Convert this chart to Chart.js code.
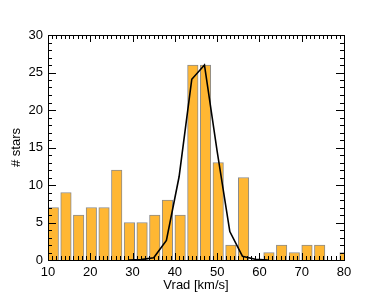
<!DOCTYPE html>
<html>
<head>
<meta charset="utf-8">
<script src="https://cdn.jsdelivr.net/npm/chart.js@4"></script>
<style>
  html, body { margin: 0; padding: 0; background: #fff; }
  #wrap { width: 374px; height: 299px; }
</style>
</head>
<body>
<div id="wrap"><canvas id="vrad-hist"></canvas></div>
<script>
// histogram bins (left edge, km/s) and star counts
const binStarts = [10, 13, 16, 19, 22, 25, 28, 31, 34, 37, 40, 43, 46, 49, 52, 55, 58, 61, 64, 67, 70, 73, 76, 79];
const counts = [7, 9, 6, 7, 7, 12, 5, 5, 6, 8, 6, 26, 26, 13, 2, 11, 0, 1, 2, 1, 2, 2, 0, 1];

// gaussian-like fit curve
const fitX = [29, 32, 35, 38, 41, 44, 47, 50, 53, 56, 59, 62];
const fitY = [0, 0.05, 0.3, 2.6, 11.1, 24.1, 26, 14.5, 3.8, 0.5, 0.1, 0];

const xTicks = [10, 20, 30, 40, 50, 60, 70, 80];
const yTicks = [0, 5, 10, 15, 20, 25, 30];

const font = { family: "'Liberation Sans', Arial, Helvetica, sans-serif", size: 13 };

// box + inward ticks, IDL style
const frameTicks = {
    id: 'frameTicks',
    afterDatasetsDraw(chart) {
        const ctx = chart.ctx;
        const a = chart.chartArea;
        const xs = chart.scales.x, ys = chart.scales.y;
        ctx.save();
        ctx.strokeStyle = '#000';
        ctx.lineWidth = 1;
        ctx.beginPath();
        for (let v = 10; v <= 80; v++) {
            const px = Math.round(xs.getPixelForValue(v)) + 0.5;
            const len = v % 10 === 0 ? 7 : 4;
            ctx.moveTo(px, a.bottom); ctx.lineTo(px, a.bottom - len);
            ctx.moveTo(px, a.top); ctx.lineTo(px, a.top + len);
        }
        for (let v = 0; v <= 30; v++) {
            const py = Math.round(ys.getPixelForValue(v)) + 0.5;
            const len = v % 5 === 0 ? 8 : 4;
            ctx.moveTo(a.left, py); ctx.lineTo(a.left + len, py);
            ctx.moveTo(a.right, py); ctx.lineTo(a.right - len, py);
        }
        ctx.stroke();
        ctx.strokeRect(Math.round(a.left) + 0.5, Math.round(a.top) + 0.5,
            Math.round(a.right - a.left), Math.round(a.bottom - a.top));
        ctx.restore();
    }
};

new Chart(document.getElementById('vrad-hist'), {
    type: 'bar',
    data: {
        datasets: [{
            type: 'line',
            data: fitX.map((x, i) => ({ x: x, y: fitY[i] })),
            borderColor: '#000',
            borderWidth: 1.6,
            pointRadius: 0,
            tension: 0,
            order: 0
        }, {
            type: 'bar',
            data: binStarts.map((s, i) => ({ x: s + 1.25, y: counts[i] })),
            backgroundColor: '#FFB733',
            borderColor: '#8c8c8c',
            borderWidth: 1,
            barThickness: 10.5,
            order: 1
        }]
    },
    plugins: [frameTicks],
    options: {
        responsive: true,
        maintainAspectRatio: false,
        animation: false,
        layout: { padding: { top: 35, right: 30, left: 0, bottom: 0 } },
        plugins: { legend: { display: false }, tooltip: { enabled: false } },
        scales: {
            x: {
                type: 'linear',
                offset: false,
                min: 10, max: 80,
                afterFit: s => { s.height = 39; },
                afterBuildTicks: s => { s.ticks = xTicks.map(v => ({ value: v })); },
                grid: { display: false, drawTicks: false, offset: false },
                border: { display: false },
                ticks: { color: '#000', font: font, padding: 5, maxRotation: 0 },
                title: { display: true, text: 'Vrad [km/s]', color: '#000', font: font, padding: { top: 0, bottom: 6 } }
            },
            y: {
                min: 0, max: 30,
                afterFit: s => { s.width = 48; },
                afterBuildTicks: s => { s.ticks = yTicks.map(v => ({ value: v })); },
                grid: { display: false, drawTicks: false },
                border: { display: false },
                ticks: { color: '#000', font: font, padding: 5 },
                title: { display: true, text: '# stars', color: '#000', font: font, padding: { top: 9, bottom: 0 } }
            }
        }
    }
});
</script>
</body>
</html>
